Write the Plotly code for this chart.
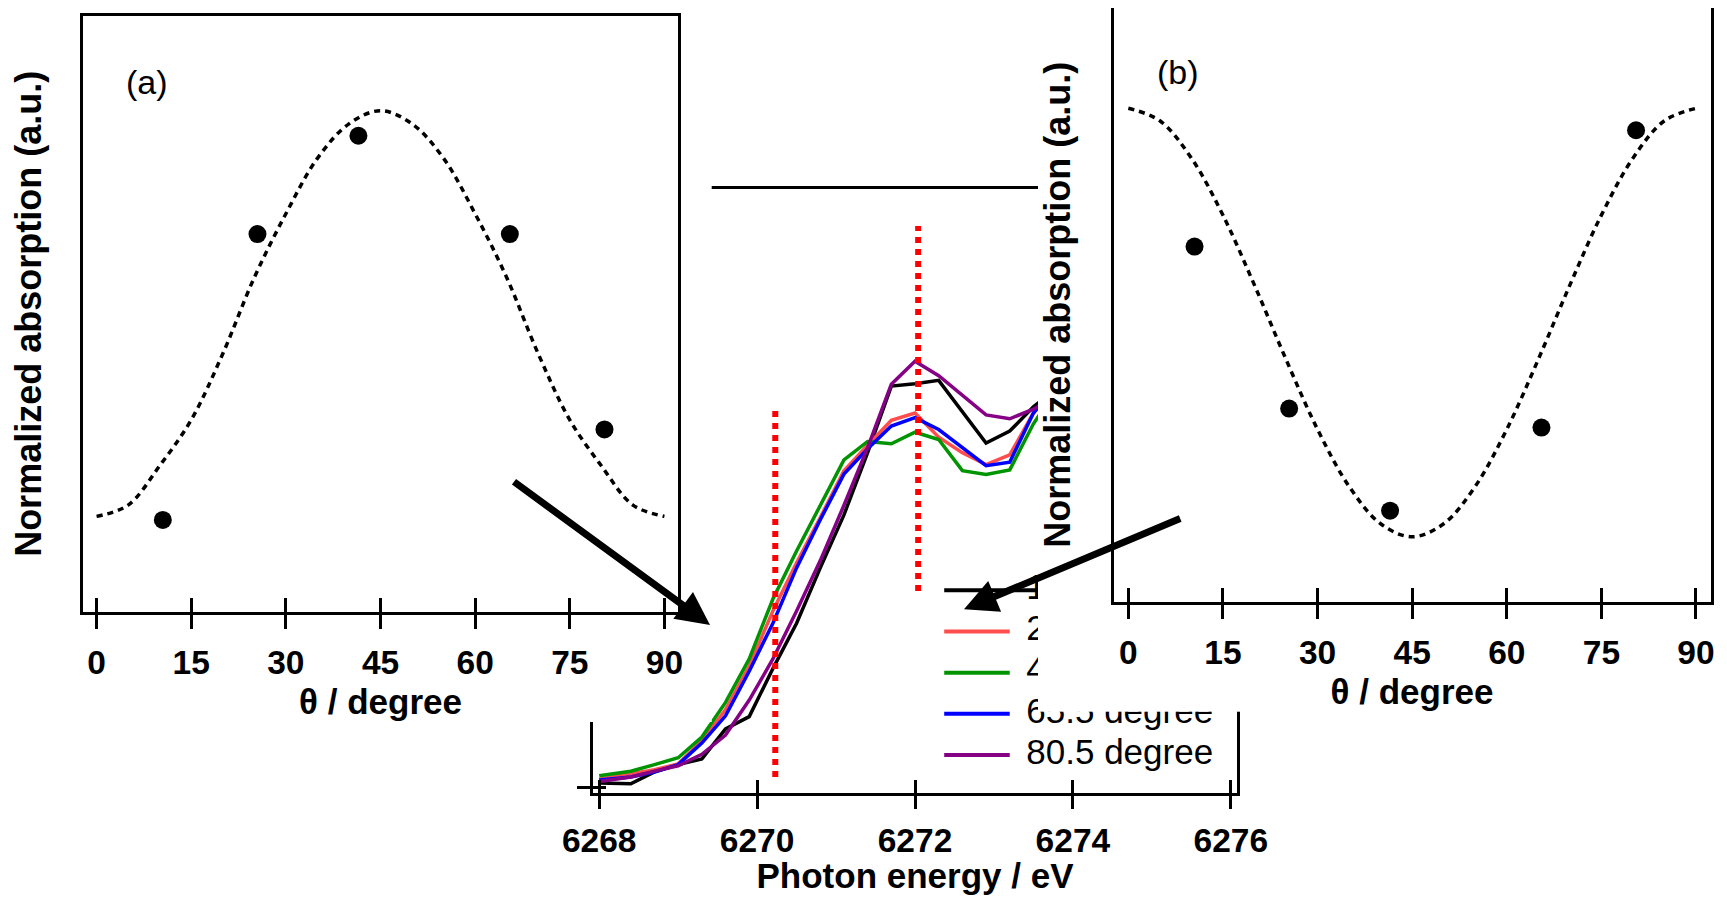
import plotly.graph_objects as go

# ---------------- data ----------------
# panels (a) and (b): normalized absorption vs. angle
angles = [10.5, 25.5, 41.5, 65.5, 80.5]
absorb_a = [0.154, 0.634, 0.799, 0.634, 0.306]
absorb_b = [0.598, 0.325, 0.153, 0.293, 0.794]

# dashed model curves
fit_theta = [0, 5, 10, 15, 20, 25, 30, 35, 40, 45, 50, 55, 60, 65, 70, 75, 80, 85, 90]
fit_a = [0.160, 0.179, 0.245, 0.322, 0.433, 0.561, 0.668, 0.761, 0.819, 0.841,
         0.819, 0.761, 0.668, 0.561, 0.433, 0.322, 0.245, 0.179, 0.160]
fit_b = [0.831, 0.810, 0.747, 0.651, 0.533, 0.408, 0.290, 0.194, 0.131, 0.109,
         0.131, 0.194, 0.290, 0.408, 0.533, 0.651, 0.747, 0.810, 0.831]

theta_ticks = [0, 15, 30, 45, 60, 75, 90]
theta_ticklabels = ["0", "15", "30", "45", "60", "75", "90"]

# centre panel: XANES spectra
energy = [6268.0, 6268.4, 6268.7, 6269.0, 6269.3, 6269.6, 6269.9, 6270.2, 6270.5, 6270.8,
          6271.1, 6271.4, 6271.7, 6272.0, 6272.3, 6272.6, 6272.9, 6273.2, 6273.5, 6273.8]
spec_10 = [0.012, 0.010, 0.041, 0.060, 0.075, 0.153, 0.185, 0.310, 0.428, 0.572,
           0.710, 0.872, 1.045, 1.051, 1.060, 0.978, 0.897, 0.928, 0.991, 1.040]
spec_25 = [0.022, 0.035, 0.047, 0.062, 0.122, 0.203, 0.316, 0.460, 0.585, 0.703,
           0.825, 0.891, 0.956, 0.975, 0.912, 0.872, 0.841, 0.866, 0.975, 1.050]
spec_41 = [0.031, 0.043, 0.060, 0.078, 0.132, 0.222, 0.335, 0.491, 0.616, 0.735,
           0.853, 0.901, 0.895, 0.925, 0.906, 0.825, 0.815, 0.827, 0.947, 1.040]
spec_65 = [0.020, 0.028, 0.041, 0.060, 0.116, 0.187, 0.303, 0.428, 0.572, 0.697,
           0.816, 0.882, 0.941, 0.963, 0.932, 0.885, 0.838, 0.847, 0.975, 1.050]
spec_80 = [0.016, 0.028, 0.043, 0.057, 0.087, 0.137, 0.228, 0.335, 0.460, 0.591,
           0.735, 0.885, 1.050, 1.110, 1.072, 1.022, 0.970, 0.960, 0.985, 1.020]
spec_labels = ["10.5 degree", "25.5 degree", "41.5 degree", "65.5 degree", "80.5 degree"]

energy_ticks = [6268, 6270, 6272, 6274, 6276]
energy_ticklabels = ["6268", "6270", "6272", "6274", "6276"]

# red dotted guide lines
guide_energy = [6270.23, 6272.04]
guide_bottom = [0.028, 0.512]
guide_top = [0.985, 1.462]

# ---------------- style / page geometry ----------------
W, H = 1727, 903          # browser window
OX, OY = 8, 8             # default body margin of the html page
FW, FH = W - 2 * OX, H - 2 * OY
FONT = "Liberation Sans, Arial, sans-serif"
spec_colors = ["#000000", "#ff4d4d", "#009400", "#0000ff", "#850085"]
spectra = [spec_10, spec_25, spec_41, spec_65, spec_80]


def px(x):
    return (x - OX) / FW


def py(y):
    return 1 - (y - OY) / FH


def xdom(x0, x1):
    return [max(0.0, px(x0)), min(1.0, px(x1))]


def ydom(top, bottom):
    return [max(0.0, py(bottom)), min(1.0, py(top))]


frame = dict(showline=True, linecolor="black", linewidth=3, mirror=True,
             showgrid=False, zeroline=False, automargin=False)
inner = dict(showticklabels=False, showline=False, showgrid=False, zeroline=False,
             automargin=False, tickwidth=3, tickcolor="black", ticks="inside")
tickfont = dict(family=FONT, size=33.5, color="black", weight="bold")
titlefont = dict(family=FONT, size=35, color="black", weight="bold")
ytitlefont = dict(family=FONT, size=36, color="black", weight="bold")

fig = go.Figure()

# ---- centre plot (x, y) ----
for s, c, lab in zip(spectra, spec_colors, spec_labels):
    fig.add_trace(go.Scatter(x=energy, y=s, mode="lines", line=dict(color=c, width=3.5),
                             name=lab, xaxis="x", yaxis="y", hoverinfo="skip"))
for e, b, t in zip(guide_energy, guide_bottom, guide_top):
    fig.add_trace(go.Scatter(x=[e, e], y=[b, t], mode="lines",
                             line=dict(color="#ff0000", width=6, dash="dot"),
                             xaxis="x", yaxis="y", hoverinfo="skip"))

# hand-drawn legend inside the centre plot (so it can be hidden by the panels)
leg_x0, leg_x1, leg_x1_first, leg_text_x = 6272.37, 6273.20, 6273.62, 6273.41
leg_top, leg_step = 0.514, 0.1073
leg_y = [leg_top - i * leg_step for i in range(len(spec_labels))]
for i, (c, yy) in enumerate(zip(spec_colors, leg_y)):
    fig.add_trace(go.Scatter(x=[leg_x0, leg_x1_first if i == 0 else leg_x1], y=[yy, yy],
                             mode="lines", line=dict(color=c, width=4),
                             xaxis="x", yaxis="y", hoverinfo="skip"))
fig.add_trace(go.Scatter(x=[leg_text_x] * len(spec_labels), y=leg_y, mode="text",
                         text=spec_labels, textposition="middle right",
                         textfont=dict(family=FONT, size=35, color="black"),
                         xaxis="x", yaxis="y", hoverinfo="skip"))

# ---- white cover behind panel (a) and (b) ----
fig.add_trace(go.Scatter(x=[], y=[], xaxis="x2", yaxis="y2", hoverinfo="skip"))
fig.add_trace(go.Scatter(x=[], y=[], xaxis="x4", yaxis="y4", hoverinfo="skip"))

# ---- panel (a) ----
fig.add_trace(go.Scatter(x=fit_theta, y=fit_a, mode="lines", line_shape="spline",
                         line=dict(color="black", width=3.5, dash="6px,5px"),
                         xaxis="x3", yaxis="y3", hoverinfo="skip"))
fig.add_trace(go.Scatter(x=angles, y=absorb_a, mode="markers",
                         marker=dict(color="black", size=18, line=dict(width=0)),
                         xaxis="x3", yaxis="y3"))

# ---- panel (b) ----
fig.add_trace(go.Scatter(x=fit_theta, y=fit_b, mode="lines", line_shape="spline",
                         line=dict(color="black", width=3.5, dash="6px,5px"),
                         xaxis="x5", yaxis="y5", hoverinfo="skip"))
fig.add_trace(go.Scatter(x=angles, y=absorb_b, mode="markers",
                         marker=dict(color="black", size=18, line=dict(width=0)),
                         xaxis="x5", yaxis="y5"))

# empty traces for the overlay axes that draw the inward half of the ticks
fig.add_trace(go.Scatter(x=[], y=[], xaxis="x6", yaxis="y3", hoverinfo="skip"))
fig.add_trace(go.Scatter(x=[], y=[], xaxis="x7", yaxis="y5", hoverinfo="skip"))
fig.add_trace(go.Scatter(x=[], y=[], xaxis="x8", yaxis="y", hoverinfo="skip"))
fig.add_trace(go.Scatter(x=[], y=[], xaxis="x", yaxis="y6", hoverinfo="skip"))

range_a = [-2.2, 92.2]
range_b = [-2.35, 92.3]
range_e = [6267.925, 6276.075]
range_s = [-0.0146, 1.558]

TLS = 5      # tick label standoff
TTS = 10     # x title standoff
YTS = 29     # y title standoff

fig.update_layout(
    template="none",
    width=FW, height=FH, autosize=False,
    margin=dict(l=0, r=0, t=0, b=0, pad=0),
    paper_bgcolor="white", plot_bgcolor="white",
    showlegend=False,
    font=dict(family=FONT, color="black"),
    # centre
    xaxis=dict(domain=xdom(593.3, 1236.7), anchor="y", range=range_e,
               tickvals=energy_ticks, ticktext=energy_ticklabels,
               ticks="outside", ticklen=13, tickwidth=3, tickcolor="black",
               tickfont=tickfont, ticklabelstandoff=TLS - 3,
               title=dict(text="Photon energy / eV", font=titlefont, standoff=TTS + 3), **frame),
    yaxis=dict(domain=ydom(189, 793.3), anchor="x", range=range_s,
               tickvals=[0], ticks="outside", ticklen=13, tickwidth=3, tickcolor="black",
               showticklabels=False, **frame),
    xaxis8=dict(overlaying="x", anchor="y", range=range_e, tickvals=energy_ticks,
                ticklen=13, **inner),
    yaxis6=dict(overlaying="y", anchor="x", range=range_s, tickvals=[0],
                ticklen=13, **inner),
    # covers
    xaxis2=dict(domain=xdom(0, 711.7), anchor="y2", range=[0, 1], visible=False, automargin=False),
    yaxis2=dict(domain=ydom(0, 722), anchor="x2", range=[0, 1], visible=False, automargin=False),
    xaxis4=dict(domain=xdom(1038, W), anchor="y4", range=[0, 1], visible=False, automargin=False),
    yaxis4=dict(domain=ydom(0, 711.7), anchor="x4", range=[0, 1], visible=False, automargin=False),
    # panel (a)
    xaxis3=dict(domain=xdom(82.7, 678.3), anchor="y3", range=range_a,
                tickvals=theta_ticks, ticktext=theta_ticklabels,
                ticks="outside", ticklen=14, tickwidth=3, tickcolor="black",
                tickfont=tickfont, ticklabelstandoff=TLS,
                title=dict(text="θ / degree", font=titlefont, standoff=TTS), **frame),
    yaxis3=dict(domain=ydom(16, 611.7), anchor="x3", range=[0, 1],
                showticklabels=False, ticks="",
                title=dict(text="Normalized absorption (a.u.)", font=ytitlefont, standoff=YTS),
                **frame),
    xaxis6=dict(overlaying="x3", anchor="y3", range=range_a, tickvals=theta_ticks,
                ticklen=14, **inner),
    # panel (b)
    xaxis5=dict(domain=xdom(1113.5, 1710.5), anchor="y5", range=range_b,
                tickvals=theta_ticks, ticktext=theta_ticklabels,
                ticks="outside", ticklen=14, tickwidth=3, tickcolor="black",
                tickfont=tickfont, ticklabelstandoff=TLS,
                title=dict(text="θ / degree", font=titlefont, standoff=TTS), **frame),
    yaxis5=dict(domain=ydom(6, 601.5), anchor="x5", range=[0, 1],
                showticklabels=False, ticks="",
                title=dict(text="Normalized absorption (a.u.)", font=ytitlefont, standoff=YTS),
                **frame),
    xaxis7=dict(overlaying="x5", anchor="y5", range=range_b, tickvals=theta_ticks,
                ticklen=14, **inner),
)

annotations = [
    dict(text="(a)", x=px(146.7), y=py(81.7), xref="paper", yref="paper",
         xanchor="center", yanchor="middle", showarrow=False,
         font=dict(family=FONT, size=34, color="black")),
    dict(text="(b)", x=px(1178), y=py(71.7), xref="paper", yref="paper",
         xanchor="center", yanchor="middle", showarrow=False,
         font=dict(family=FONT, size=34, color="black")),
    dict(text="", x=px(710), y=py(625), xref="paper", yref="paper",
         showarrow=True, ax=-197.5, ay=-144.3, arrowhead=2, arrowsize=0.95,
         arrowwidth=7, arrowcolor="black"),
    dict(text="", x=px(964), y=py(609.3), xref="paper", yref="paper",
         showarrow=True, ax=217.7, ay=-91.4, arrowhead=2, arrowsize=0.95,
         arrowwidth=7, arrowcolor="black"),
]
fig.update_layout(annotations=annotations)

fig.write_html("out.html")
